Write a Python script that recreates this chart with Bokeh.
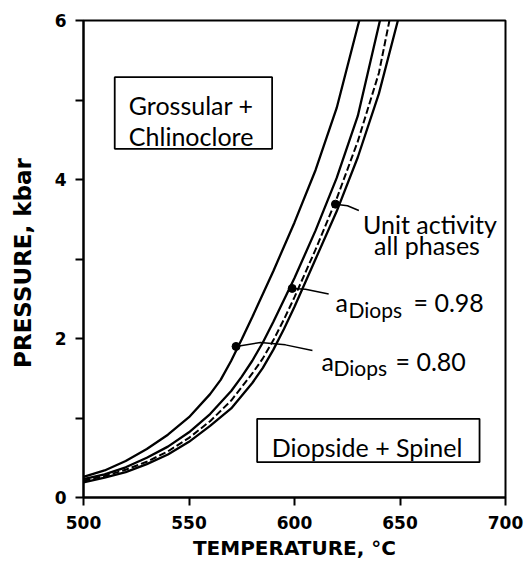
from bokeh.plotting import figure
from bokeh.models import Range1d, FixedTicker, BoxAnnotation, Label
from bokeh.embed import file_html
from bokeh.resources import INLINE

# ---- data (T in °C, P in kbar) ----
a080_T = [500, 510, 520, 530, 540, 550, 560, 565, 570, 575, 580, 590, 600, 610, 620, 630, 630.7]
a080_P = [0.26, 0.34, 0.46, 0.61, 0.79, 1.01, 1.30, 1.48, 1.72, 1.99, 2.27, 2.85, 3.46, 4.12, 4.90, 5.93, 6.0]

a098_T = [500, 510, 520, 530, 540, 550, 560, 570, 575, 580, 585, 590, 600, 610, 620, 630, 640.5]
a098_P = [0.23, 0.29, 0.38, 0.50, 0.64, 0.82, 1.05, 1.34, 1.52, 1.72, 1.95, 2.21, 2.76, 3.36, 4.02, 4.80, 6.0]

dash_T = [500, 510, 520, 530, 540, 550, 560, 570, 580, 585, 590, 595, 600, 610, 620, 630, 640, 645]
dash_P = [0.21, 0.27, 0.35, 0.45, 0.58, 0.75, 0.96, 1.22, 1.56, 1.75, 1.98, 2.24, 2.52, 3.12, 3.76, 4.48, 5.34, 6.0]

unit_T = [500, 510, 520, 530, 540, 550, 560, 570, 580, 585, 590, 595, 600, 610, 620, 630, 640, 649]
unit_P = [0.19, 0.25, 0.32, 0.42, 0.54, 0.70, 0.90, 1.12, 1.44, 1.63, 1.86, 2.12, 2.40, 3.00, 3.60, 4.28, 5.08, 6.0]

dot_T = [619.4, 598.9, 572.3]
dot_P = [3.69, 2.63, 1.90]

lead_unit_T = [619.4, 625.1, 630.5]
lead_unit_P = [3.69, 3.67, 3.61]
lead_098_T = [598.9, 605.2, 616.2]
lead_098_P = [2.63, 2.62, 2.56]
lead_080_T = [572.3, 583.9, 595.7, 608.5]
lead_080_P = [1.90, 1.95, 1.92, 1.85]

x_ticks = [500, 550, 600, 650, 700]
y_ticks = [0, 2, 4, 6]
y_minor = [1, 3, 5]

FONT = "Lato"
AX_FONT = "DejaVu Sans"

p = figure(width=531, height=573, x_range=Range1d(500, 700), y_range=Range1d(0, 6),
           output_backend="svg", toolbar_location=None,
           min_border_left=83, min_border_right=26, min_border_top=20, min_border_bottom=76)
p.grid.visible = False
p.outline_line_color = "black"
p.outline_line_width = 2
p.background_fill_color = "white"
p.border_fill_color = "white"

p.xaxis.ticker = FixedTicker(ticks=x_ticks)
p.yaxis.ticker = FixedTicker(ticks=y_ticks, minor_ticks=y_minor)
for ax in (p.xaxis, p.yaxis):
    ax.axis_line_width = 2
    ax.major_tick_line_width = 2
    ax.minor_tick_line_width = 2
    ax.major_tick_out = 8
    ax.major_tick_in = 0
    ax.major_label_text_font = AX_FONT
    ax.major_label_text_font_style = "bold"
    ax.major_label_text_font_size = "17px"
    ax.major_label_text_color = "black"
    ax.axis_label_text_font = AX_FONT
    ax.axis_label_text_font_style = "bold"
    ax.axis_label_text_color = "black"
p.xaxis.axis_label_text_font_size = "20px"
p.yaxis.axis_label_text_font_size = "23px"
p.xaxis.minor_tick_out = 0
p.yaxis.minor_tick_out = 8
p.yaxis.minor_tick_in = 0
p.xaxis.major_label_standoff = 10
p.yaxis.major_label_standoff = 9
p.xaxis.axis_label = "TEMPERATURE, °C"
p.yaxis.axis_label = "PRESSURE,  kbar"
p.xaxis.axis_label_standoff = 4
p.yaxis.axis_label_standoff = 16

# curves
p.line(a080_T, a080_P, line_color="black", line_width=2.3)
p.line(a098_T, a098_P, line_color="black", line_width=2.3)
p.line(dash_T, dash_P, line_color="black", line_width=2.0, line_dash="7 3")
p.line(unit_T, unit_P, line_color="black", line_width=2.3)

# leaders and dots
for lt, lp in ((lead_unit_T, lead_unit_P), (lead_098_T, lead_098_P), (lead_080_T, lead_080_P)):
    p.line(lt, lp, line_color="black", line_width=1.5)
p.scatter(dot_T, dot_P, size=8, color="black")

# boxes
p.add_layout(BoxAnnotation(left=514.8, right=589.4, bottom=4.386, top=5.287,
                           fill_alpha=0, line_color="black", line_alpha=1, line_width=1.8))
p.add_layout(BoxAnnotation(left=582.3, right=687.7, bottom=0.444, top=0.99,
                           fill_alpha=0, line_color="black", line_alpha=1, line_width=1.8))

def lab(x, y, t, size="25px", align="left"):
    p.add_layout(Label(x=x, y=y, text=t, text_font=FONT, text_font_size=size,
                       text_align=align, text_baseline="alphabetic", text_color="black"))

lab(551.0, 4.943, "Grossular +", align="center")
lab(551.0, 4.541, "Chlinoclore", align="center")
lab(634.4, 0.629, "Diopside + Spinel", align="center")
lab(664.2, 3.434, "Unit activity", align="center")
lab(662.8, 3.18, "all phases", align="center")

lab(619.43, 2.453, "a")
lab(625.59, 2.365, "Diops", size="21px")
lab(656.4, 2.453, "= 0.98")
lab(612.8, 1.723, "a")
lab(618.48, 1.635, "Diops", size="21px")
lab(647.87, 1.723, "= 0.80")

open("out.html", "w").write(file_html(p, INLINE))
